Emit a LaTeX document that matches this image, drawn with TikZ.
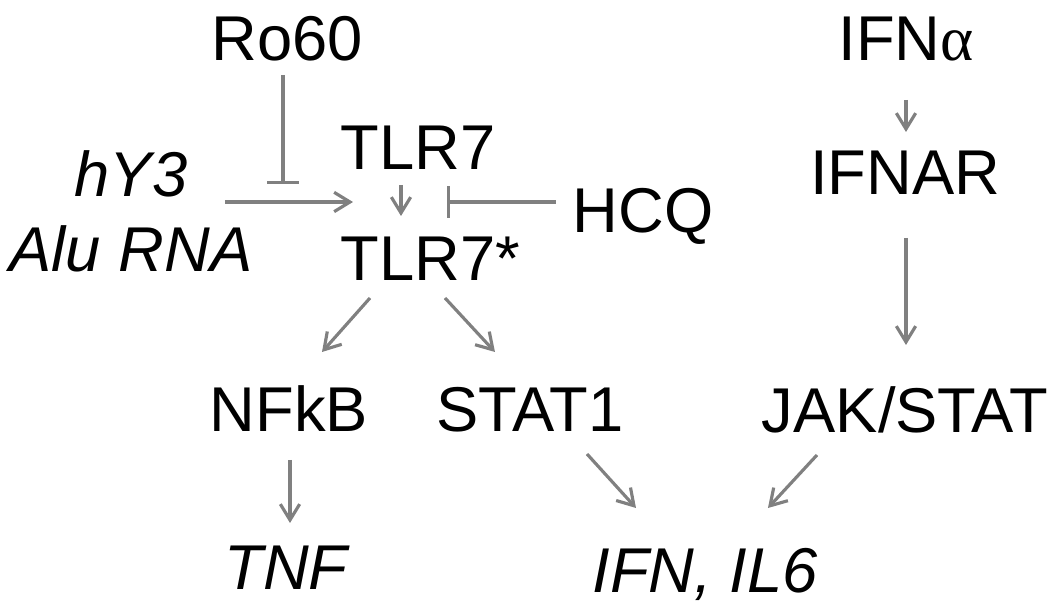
\documentclass[tikz,border=0pt]{standalone}
\usepackage{fontspec}
\setmainfont{Liberation Sans}
\newfontfamily\greekfont{Liberation Serif}
\usetikzlibrary{arrows.meta}

\definecolor{linkgray}{RGB}{128,128,128}
\tikzset{
    label/.style={inner sep=0pt, anchor=base, font=\fontsize{18}{22}\selectfont},
    gene/.style={label, font=\fontsize{18}{22}\selectfont\itshape},
    act/.style={draw=linkgray, line width=0.9pt, -{Straight Barb[length=4.5pt,width=5.5pt]}},
    inh/.style={draw=linkgray, line width=0.9pt, -{Bar[width=9pt]}}
}

\begin{document}
\begin{tikzpicture}[x=0.01cm,y=-0.01cm]
        \useasboundingbox (0,0) rectangle (1050,616);

        % left branch
        \node[label] (ro60) at (287,61) {Ro60};
        \node[gene] (hy3) at (131,197) {hY3};
        \node[gene] (alu) at (131,272) {Alu RNA};
        \node[label, anchor=base west] (tlr7) at (340,170) {TLR7};
        \node[label, anchor=base west] (tlr7s) at (340,281) {TLR7*};
        \node[label] (hcq) at (643,233) {HCQ};
        \coordinate (mid7) at (401,202);
        \node[label] (nfkb) at (289,432) {NFkB};
        \node[label] (stat1) at (530,432) {STAT1};
        \node[gene] (tnf) at (286,590) {TNF};
        \node[gene] (ifn) at (705,593) {IFN, IL6};

        % right branch
        \node[label] (ifna) at (906,61) {IFN{\greekfont α}};
        \node[label] (ifnar) at (905,195) {IFNAR};
        \node[label] (jak) at (905,433) {JAK/STAT};

        \draw[inh] ([shift={(-4,14)}]ro60.base) -- ([shift={(-118,-18)}]mid7);
        \draw[act] ([shift={(94,5)}]hy3.base) -- ([shift={(-48,0)}]mid7);
        \draw[act] ([shift={(61,15)}]tlr7.base west) -- ([shift={(61,-65)}]tlr7s.base west);
        \draw[inh] ([shift={(-87,-31)}]hcq.base) -- ([shift={(46,0)}]mid7);
        \draw[act] ([shift={(30,17)}]tlr7s.base west) -- ([shift={(33,-80)}]nfkb.base);
        \draw[act] ([shift={(105,17)}]tlr7s.base west) -- ([shift={(-35,-80)}]stat1.base);
        \draw[act] ([shift={(1,28)}]nfkb.base) -- ([shift={(4,-67)}]tnf.base);
        \draw[act] ([shift={(57,22)}]stat1.base) -- ([shift={(-69,-85)}]ifn.base);
        \draw[act] ([shift={(-88,22)}]jak.base) -- ([shift={(63,-85)}]ifn.base);
        \draw[act] ([shift={(0,39)}]ifna.base) -- ([shift={(1,-63)}]ifnar.base);
        \draw[act] ([shift={(1,43)}]ifnar.base) -- ([shift={(1,-88)}]jak.base);
    \end{tikzpicture}
\end{document}
